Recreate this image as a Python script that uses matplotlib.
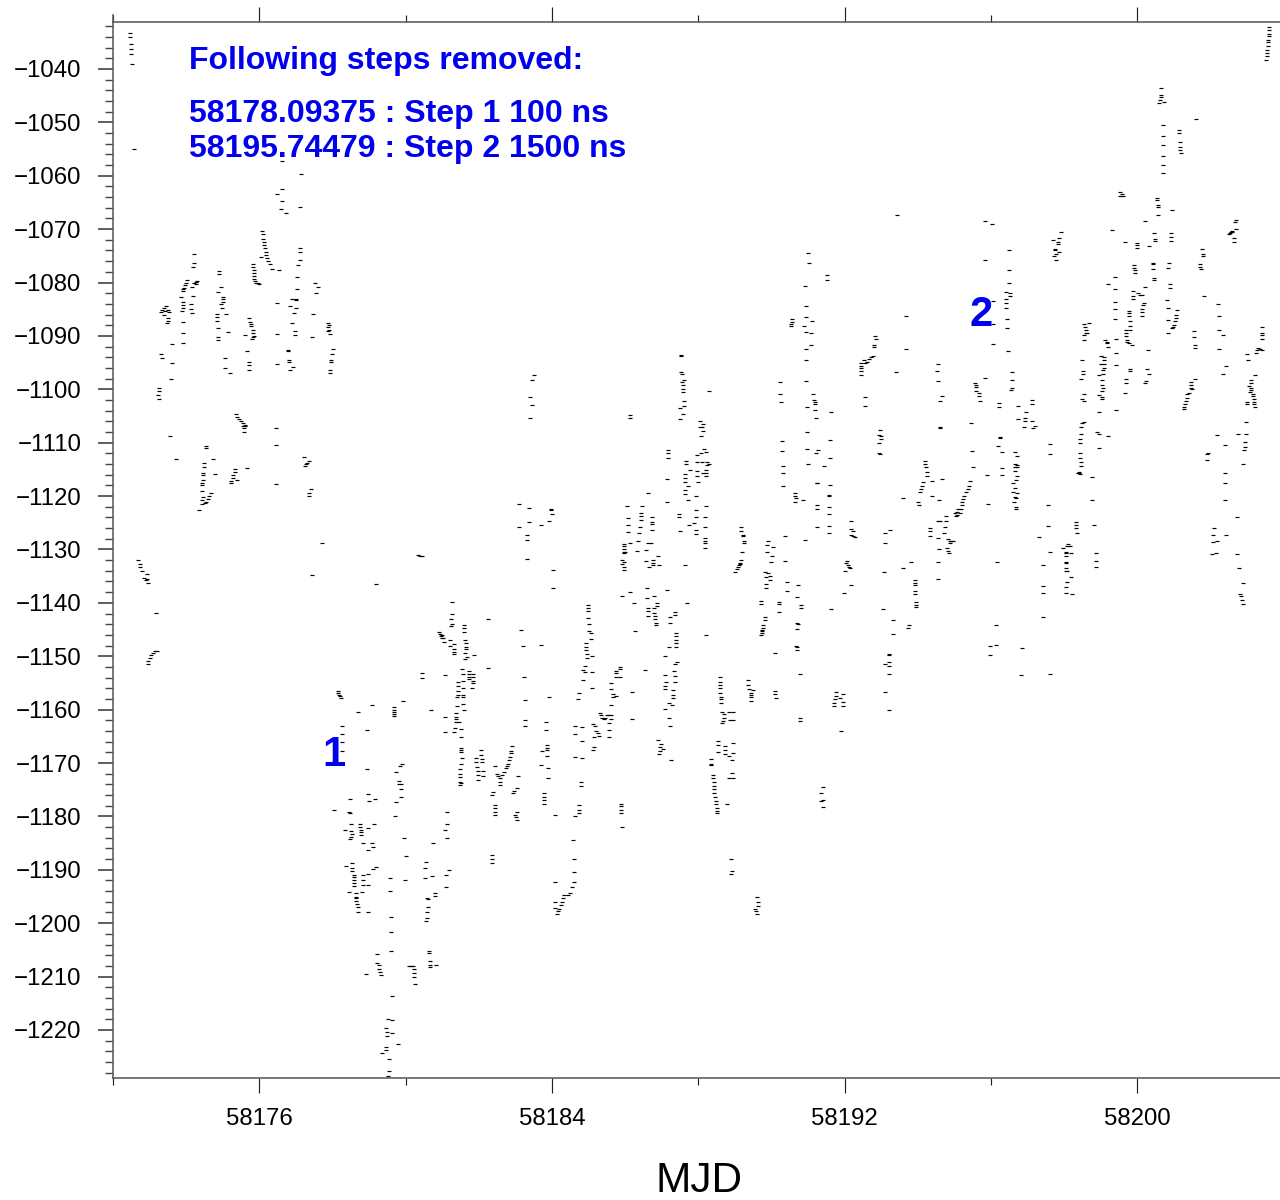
import numpy as np
import matplotlib
matplotlib.use("Agg")
import matplotlib.pyplot as plt
from matplotlib.ticker import FixedLocator, FuncFormatter

plt.rcParams['font.family'] = ['Liberation Sans', 'DejaVu Sans']

MJD_BASE = 58170.0

# (days after MJD_BASE, residual in ns)
top_left = [(2.47,-1033.3),(2.47,-1034),(2.49,-1035.3),(2.5,-1036.3),(2.5,-1037.2),(2.52,-1039.1),(2.58,-1055),
 (6.63,-1057.2),(7.15,-1059.7),(6.63,-1062.5),(6.49,-1063.4),(6.63,-1064.7),(6.6,-1066.2),(6.74,-1067),(7.12,-1065.8),
 (6.08,-1070.3),(6.09,-1071),(6.1,-1071.8),(6.12,-1072.5),(6.13,-1073),(6.15,-1073.6),(6.17,-1074.2),(6.18,-1074.8),(6.2,-1075.4),(6.23,-1076),(6.3,-1076.5),(6.35,-1077.4),(6.55,-1077.6),(6.05,-1075.2),
 (5.83,-1076.5),(5.84,-1077),(5.85,-1077.6),(5.85,-1078.2),(5.86,-1078.8),(5.85,-1079.3),(5.88,-1079.7),(5.92,-1080),(5.97,-1080.1),(6.0,-1080.2),
 (7.12,-1073.5),(7.12,-1074.2),(7.12,-1075.8),(7.05,-1076.8),(7.04,-1079),(7.03,-1081.2),(6.9,-1083),(7.0,-1083.1),
 (4.22,-1074.6),(4.22,-1076.3),(4.2,-1077),(4.26,-1079.9),(4.22,-1080),(4.3,-1079.7),(4.26,-1080.2),(3.98,-1080.5),(4.0,-1080),(3.95,-1081),(3.92,-1081.5),(4.03,-1079.5),(3.87,-1082.7),(3.9,-1081.2),(4.17,-1080.8),(4.2,-1082.5),
 (4.9,-1077.8),(4.9,-1078.4),(4.96,-1080.8),(4.88,-1081.8),(5.0,-1082.7),(7.53,-1080),(7.6,-1080.8),(7.56,-1082)]

left_middle = [(3.35,-1085.2),(3.4,-1084.8),(3.45,-1084.4),(3.42,-1085.3),(3.3,-1085.5),(3.54,-1085.5),(3.5,-1085.2),(3.5,-1086.6),(3.5,-1087.2),(3.47,-1087.6),(3.4,-1086),
 (3.9,-1084.2),(3.9,-1084.8),(3.9,-1083.6),(3.88,-1085.3),(4.14,-1084),(4.12,-1085),(4.15,-1085.7),(3.9,-1087.4),(3.9,-1089.4),(3.92,-1091.3),(3.62,-1091.5),(3.32,-1093.3),(3.34,-1094.1),(3.6,-1095),(3.58,-1098),(3.25,-1099.8),(3.25,-1100.3),(3.24,-1101),(3.27,-1101.8),(3.57,-1108.7),(3.73,-1113),
 (5.0,-1083.6),(5.0,-1083),(4.95,-1084),(4.97,-1084.7),(4.85,-1085.9),(4.85,-1086.5),(4.85,-1087.2),(5.1,-1085.9),(4.87,-1088.5),(5.13,-1089.3),(4.88,-1090.2),(4.88,-1090.8),(5.05,-1094.1),(5.05,-1096),(5.2,-1096.9),
 (5.73,-1086.6),(5.75,-1087.4),(5.78,-1087.8),(5.78,-1088.2),(5.82,-1088.9),(5.82,-1089.4),(5.82,-1090.2),(5.85,-1090),(5.8,-1090.6),(5.73,-1094.9),(5.73,-1095.5),(5.73,-1096.4),(5.62,-1089.8),(5.67,-1092.9),
 (6.49,-1083.9),(6.49,-1089.6),(6.49,-1095.3),(6.46,-1107.2),(6.46,-1110.4),(6.45,-1117.7),(6.85,-1084.4),(7.01,-1084.8),(7.01,-1083.3),(6.96,-1085.7),(6.88,-1087.6),(6.98,-1089.1),(6.98,-1089.8),(6.79,-1092.6),(6.79,-1092.9),(6.82,-1094.5),(6.82,-1094.9),(6.93,-1095.8),(6.85,-1096.4),(7.48,-1085.9),(7.45,-1090.2),
 (7.87,-1088.3),(7.87,-1087.5),(7.9,-1087.9),(7.9,-1088.8),(7.88,-1089),(7.93,-1089.6),(8.02,-1092.4),(8,-1093.4),(7.97,-1094.5),(7.96,-1094.9),(7.94,-1096.4),(7.94,-1096.9),
 (5.37,-1104.6),(5.4,-1105.1),(5.45,-1105.6),(5.5,-1106),(5.55,-1106.4),(5.55,-1106.8),(5.58,-1107.2),(5.6,-1106.6),(5.62,-1106.8),(5.58,-1108),
 (4.55,-1110.6),(4.55,-1111),(4.5,-1113.8),(4.5,-1114.5),(4.74,-1113),(4.78,-1115.8),(4.47,-1115.7),(4.47,-1116),(4.45,-1117),(4.44,-1117.5),(4.43,-1118),(5.34,-1115),(5.34,-1115.5),(5.28,-1116),(5.28,-1116.6),(5.38,-1117),(5.23,-1117.1),(5.23,-1117.6),(5.65,-1114.8),
 (4.43,-1119.1),(4.45,-1120.2),(4.43,-1120.7),(4.43,-1121.5),(4.36,-1122.6),(4.69,-1119.4),(4.63,-1120),(4.6,-1120.6),(4.55,-1121.1),(4.52,-1121.3),
 (7.23,-1112.7),(7.3,-1113.8),(7.25,-1114.3),(7.35,-1113.5),(7.27,-1114),(7.4,-1118.7),(7.37,-1119.4),(7.37,-1120),(7.7,-1128.8),(7.44,-1134.8),(9.2,-1136.5),
 (2.69,-1132),(2.74,-1132.7),(2.74,-1133.3),(2.78,-1134),(2.93,-1134.6),(2.85,-1135.3),(2.9,-1135.8),(2.95,-1136.2),(2.92,-1135.6),
 (2.95,-1151.5),(2.97,-1150.8),(3.0,-1150.3),(3.05,-1149.8),(3.1,-1149.4),(3.15,-1149),(3.2,-1149),(3.18,-1141.9),(10.35,-1131),(10.4,-1131.2),(10.45,-1131.3)]

dip_upper = [(8.14,-1156.6),(8.16,-1156.9),(8.18,-1157.2),(8.2,-1157.5),(8.22,-1157.9),(8.27,-1163),(8.26,-1164.6),(8.25,-1166),(8.25,-1167.7),(8.69,-1160.4),(9.09,-1159.1),(8.94,-1163.8),(8.95,-1171.1),
 (9.69,-1159.5),(9.69,-1160),(9.69,-1160.4),(9.69,-1160.8),(9.69,-1161.2),(9.94,-1158.4),(10.7,-1160),(11.08,-1161.3),(11.08,-1164.2),(10.46,-1153.2),(10.46,-1154),(11.08,-1153.6),
 (9.9,-1170.1),(9.84,-1170.5),(9.74,-1171.7),(9.83,-1173.4),(9.83,-1174),(9.87,-1174),(9.86,-1174.8),(9.86,-1176.3),(9.74,-1177.3),(9.72,-1180),
 (8.96,-1175.8),(9.15,-1176.8),(8.99,-1177.2),(8.48,-1176.8),(8.05,-1178.8),(8.46,-1179.1),(8.49,-1179.4),(8.5,-1181.5),(8.76,-1181.5),(8.76,-1181.9),(8.78,-1182.6),(8.78,-1183),(8.79,-1183.5),(8.96,-1182.2),(9.13,-1181.4),(8.34,-1182.6),(8.5,-1182.7),(8.52,-1183.3),(8.5,-1183.8),(8.49,-1184.2),
 (8.83,-1184.9),(9.08,-1184.9),(9.12,-1185.7),(8.96,-1186.2),(9.96,-1184.1),(10,-1187.4),(10.74,-1184.9),(11.13,-1179.1),(11.14,-1181.5),(11.08,-1182.6),(11.12,-1184.1),
 (10.55,-1188.6),(10.54,-1189.7),(10.53,-1191.5),(10.72,-1191.2),(11.18,-1190.1),(11.11,-1190.9),(11.11,-1193.2),(9.57,-1191.5),(9.97,-1192),(9.58,-1194),(10.81,-1194.4),(10.79,-1194.9),(10.61,-1195.4),
 (8.38,-1189.2),(8.53,-1188.8),(8.53,-1189.7),(8.53,-1190.3),(8.6,-1191),(8.6,-1191.4),(8.58,-1192),(8.58,-1192.5),(8.6,-1193),(8.46,-1194.2),(8.64,-1194.3),(8.64,-1195.1),(8.84,-1191),(8.84,-1191.9),(8.84,-1192.9),(8.82,-1194.1),(8.97,-1190.7),(8.97,-1192.9),(9.18,-1189.4),(9.11,-1189.8)]

dip_lower = [(9.22,-1205.7),(9.23,-1207.5),(9.26,-1207.8),(9.28,-1208.5),(9.31,-1209.1),(9.32,-1209.8),(8.92,-1209.6),(10.1,-1208.1),(10.15,-1208),(10.21,-1208.1),(10.23,-1208.6),(10.22,-1209.3),(10.22,-1210),(10.25,-1211.4),
 (10.64,-1205.2),(10.64,-1205.5),(10.67,-1207),(10.67,-1207.8),(10.66,-1208.3),(10.82,-1207.8),(9.6,-1198.8),(9.6,-1201.6),(9.6,-1205.2),(9.62,-1213.6),(10.57,-1195.3),(10.6,-1197),(10.58,-1198),(10.57,-1199),(10.56,-1199.6),
 (8.69,-1197),(8.69,-1198),(8.97,-1198),(8.64,-1195.2),(8.65,-1195.8),(8.66,-1196.4),(9.52,-1218),(9.62,-1218.2),(9.45,-1219.6),(9.5,-1220.4),(9.62,-1220.6),(9.48,-1221.2),(9.47,-1223.1),(9.46,-1223.8),(9.79,-1222.6),(9.35,-1224.4),(9.55,-1225.5),(9.55,-1227.6),(9.53,-1228.6)]

rise_a = [(11.27,-1139.9),(11.27,-1142.1),(11.24,-1143),(11.27,-1143.9),(11.25,-1144.4),(10.92,-1145.4),(10.94,-1145.8),(10.96,-1146.2),(10.98,-1146.6),(11,-1146),(11.02,-1146.6),(11.21,-1146.9),(11.06,-1147.4),(11.21,-1148.1),(11.33,-1147.7),(11.31,-1148.6),(11.31,-1149.2),(11.31,-1149.5),
 (11.6,-1144.2),(11.6,-1144.8),(11.6,-1145.4),(11.61,-1146.9),(11.65,-1147.6),(11.65,-1148.2),(11.65,-1148.7),(11.61,-1149.4),(11.68,-1150.2),(11.62,-1150.6),(11.88,-1149.7),(12.26,-1143),(13.14,-1145),(13.21,-1148),(13.7,-1147.9),(12.24,-1152.2),(13.24,-1153.8),(13.25,-1158.2),(13.91,-1157.7),(13.25,-1162),(13.25,-1163),(13.84,-1162.3),(13.84,-1163.8),
 (11.55,-1152.4),(11.56,-1153.4),(11.56,-1154.7),(11.43,-1154.9),(11.42,-1155.6),(11.56,-1155.9),(11.43,-1156.6),(11.42,-1157.2),(11.57,-1157.3),(11.57,-1157.6),(11.39,-1157.7),(11.74,-1152.7),(11.74,-1153.4),(11.74,-1153.9),(11.74,-1154.3),(11.83,-1153.4),(11.83,-1153.9),(11.85,-1154.7),(11.83,-1155.1),(11.81,-1155.9),
 (11.39,-1159.3),(11.58,-1159),(11.6,-1160),(11.38,-1160.6),(11.38,-1161.3),(11.38,-1161.8),(11.38,-1162.3),(11.47,-1162.3),(11.35,-1163.5),(11.33,-1164.2),(11.51,-1163.6),(11.51,-1165.1),(11.51,-1167.1),(11.51,-1167.6),(11.51,-1167.9),(11.53,-1169.1),(11.5,-1170.1),(11.49,-1171.1),(11.49,-1172),(11.48,-1172.7),(11.48,-1173.5),(11.5,-1173.7),(11.48,-1174.1),
 (11.93,-1169.1),(11.93,-1169.8),(11.95,-1170.7),(11.97,-1171.5),(11.97,-1172.3),(11.97,-1173.2),(12.06,-1167.6),(12.07,-1168.5),(12.09,-1169.3),(12.09,-1169.8),(12.12,-1171.5),(12.12,-1172.4),
 (12.45,-1170.5),(12.5,-1172),(12.53,-1172.4),(12.58,-1172.9),(12.58,-1173.5),(12.58,-1174.1),(12.63,-1172.3),(12.68,-1171.6),(12.73,-1171),(12.76,-1170.5),(12.79,-1170.1),(12.82,-1169.5),(12.84,-1168.8),(12.87,-1168.2),(12.88,-1167.8),(12.91,-1166.8),
 (13.06,-1172.4),(13.05,-1174.6),(12.97,-1175.2),(12.94,-1175.7),(12.38,-1175.4),(12.35,-1175.9),(12.43,-1177.8),(12.43,-1178.5),(12.43,-1179.1),(12.45,-1179.8),(13.05,-1179.1),(13,-1179.8),(13.02,-1180.2),(13.04,-1180.7),(12.36,-1187.2),(12.36,-1187.9),(12.36,-1188.7),
 (13.86,-1166.6),(13.86,-1167.2),(13.86,-1167.6),(13.73,-1167.8),(13.86,-1168.6),(13.71,-1170.4),(13.88,-1171),(13.9,-1172.8),(13.79,-1175.7),(13.78,-1176.3),(13.78,-1176.9),(13.78,-1177.6),(14.08,-1179.8)]

rise_b = [(14.62,-1163),(14.63,-1164.6),(14.82,-1163.3),(14.81,-1165.8),(14.63,-1168.8),(14.81,-1169.1),(14.78,-1173.6),(14.78,-1174.3),(14.75,-1177.8),(14.75,-1178.8),(14.75,-1179.4),(14.63,-1179.9),
 (15.14,-1165.1),(15.16,-1167),(15.13,-1167.6),(14.98,-1140.4),(14.98,-1140.9),(14.98,-1141.5),(14.98,-1142.9),(15,-1144),(15.02,-1145.2),(15.07,-1145.7),(15.07,-1146.7),(14.92,-1147.5),(14.93,-1148.2),(14.93,-1148.9),(14.95,-1149.5),(14.97,-1150.4),(15.08,-1149.9),(14.91,-1151.8),(14.84,-1152.6),(14.89,-1152.9),(15.08,-1153),(14.86,-1154.5),(15.09,-1155.9),(14.73,-1156.9),(14.71,-1158.1),
 (14.57,-1184.4),(14.6,-1188),(14.61,-1190.4),(14.61,-1192.2),(14.09,-1192.2),(14.54,-1193.3),(14.5,-1194.3),(14.44,-1194.7),(14.34,-1194.7),(14.3,-1195.3),(14.27,-1196),(14.09,-1196.1),(14.09,-1197.1),(14.25,-1196.6),(14.2,-1197.4),(14.17,-1197.8),(14.14,-1198.2),
 (13.5,-1097.3),(13.45,-1098.3),(13.41,-1101.5),(13.44,-1102.9),(13.41,-1105.4),(13.09,-1121.5),(13.37,-1122.3),(13.98,-1122.4),(13.98,-1122.7),(13.99,-1123.3),(13.37,-1124.8),(13.93,-1124.7),(13.7,-1125.5),(13.11,-1125.7),(13.32,-1127.2),(13.32,-1128.3),(13.31,-1131.8),(14.03,-1133.8),(14.02,-1137.3),(16.14,-1104.8),(16.14,-1105.4),
 (15.75,-1152.7),(15.75,-1153.2),(15.74,-1153.9),(15.85,-1152),(15.85,-1152.4),(15.87,-1153.9),(15.61,-1155.1),(15.62,-1156.2),(15.66,-1157),(15.66,-1157.6),(15.75,-1157.4),(15.6,-1159.2),(15.32,-1160.7),(15.35,-1161),(15.38,-1161.5),(15.42,-1161.8),(15.46,-1161.6),(15.5,-1161),(15.55,-1161),(15.6,-1161),(15.6,-1161.7),(15.55,-1162.5),(15.57,-1163.8),(15.57,-1165.2),(15.12,-1162.7),(15.18,-1163.1),(15.21,-1164),(15.25,-1164.3),(15.28,-1164.9),(15.89,-1177.6),(15.89,-1178.1),(15.88,-1178.8),(15.89,-1179.3),(15.91,-1182),(16.54,-1152.5),(16.19,-1156.7),(16.2,-1161.7)]

middle_a = [(17.52,-1093.7),(17.52,-1093.5),(17.53,-1096.7),(17.55,-1097.2),(17.61,-1098.2),(17.55,-1098.7),(17.57,-1099.2),(17.57,-1099.9),(17.57,-1100.5),(17.61,-1102.1),(17.6,-1103.2),(17.5,-1103.5),(17.59,-1104.6),(17.5,-1105.5),(18.29,-1100.4),
 (18.05,-1105.9),(18.14,-1106.5),(18.04,-1107.1),(18.09,-1107),(18.13,-1107.8),(18.08,-1108.8),(17.17,-1111.3),(17.17,-1112),(17.17,-1112.9),(17.15,-1116.8),(17.15,-1121.1),(16.62,-1119.4),
 (18.15,-1111.1),(18.2,-1111.8),(18.07,-1111.9),(17.96,-1112.3),(17.65,-1113.4),(17.65,-1114),(17.96,-1113.7),(18.1,-1113.6),(18.24,-1113.6),(18.29,-1113.9),(18.24,-1114.2),(17.76,-1115.1),(17.64,-1115.8),(17.64,-1116.6),(17.63,-1117.4),(17.95,-1115.3),(17.95,-1116.2),(17.99,-1117.4),(18.13,-1115.7),(18.22,-1115.2),(18.2,-1115.7),(18.22,-1116.3),(17.73,-1118.2),(17.63,-1118.9),(17.63,-1119.6),(17.73,-1120.7),(17.94,-1119.9),(18.2,-1121.8),(17.94,-1122.7),
 (17.46,-1123.3),(17.47,-1124),(17.49,-1126.5),(17.94,-1124),(18.19,-1124),(18.19,-1125.8),(17.74,-1125.4),(17.89,-1125),(17.94,-1126.4),(17.93,-1127.1),(18.19,-1127.8),(18.19,-1128.5),(18.19,-1128.7),(18.17,-1129.7),
 (16.05,-1121.9),(16.47,-1121.8),(16.43,-1123.2),(16.43,-1123.7),(16.43,-1124.5),(16.73,-1123.9),(16.73,-1124.8),(16.73,-1125.2),(16.07,-1124.1),(16.08,-1125.4),(16.41,-1125.7),(16.73,-1126.3),(16.09,-1126.7),(16.37,-1127),(16.12,-1128.7),(16.34,-1128.5),(16.62,-1128.7),(16.71,-1128.7),
 (15.96,-1129),(15.96,-1129.4),(15.96,-1129.9),(15.96,-1130.4),(15.96,-1130.7),(16,-1130.4),(16.33,-1130.2),(16.57,-1130.1),(16.9,-1131.2),(15.91,-1132),(15.98,-1132.3),(15.92,-1132.7),(15.96,-1133.2),(15.96,-1133.8),(16.57,-1132.2),(16.64,-1133.2),(16.76,-1132),(16.76,-1132.5),(16.76,-1133),(16.92,-1133),(17.63,-1133),
 (16.6,-1137.3),(17.13,-1137.5),(16.14,-1137.9),(15.91,-1138.8),(16.6,-1139),(16.79,-1138.7),(16.23,-1140.1),(17.69,-1140.1),(16.87,-1140),(16.87,-1140.6),(16.8,-1140.9),(16.62,-1140.9),(16.62,-1141.5),(16.62,-1142.5),(17.36,-1141.7),(17.36,-1142.2),(17.22,-1142.6),(17.22,-1143.7),(16.27,-1145.2),(18.2,-1146),(16.8,-1141.9),(16.81,-1142.5),(16.82,-1143.1),(16.85,-1143.8),(16.85,-1144.2),
 (17.38,-1145.7),(17.39,-1146.3),(17.39,-1146.9),(17.39,-1147.5),(17.39,-1148.3),(17.19,-1148.3),(17.08,-1149.9),(17.41,-1151),(17.35,-1151.5),(17.34,-1152.7),(17.35,-1153.7),(17.35,-1154.9),(17.09,-1153.5),(17.12,-1154.8),(17.1,-1155.5),(17.1,-1156.2),(17.32,-1156.3),(17.32,-1157.2),(17.31,-1157.9),
 (17.21,-1161.6),(17.23,-1163.1),(17.21,-1158.7),(17.29,-1159.1),(17.1,-1159.8),(16.91,-1165.7),(16.99,-1166.5),(16.94,-1167),(17.03,-1167.3),(16.94,-1167.7),(16.93,-1168.3),(17.26,-1169.5)]

middle_b = [(19.17,-1125.7),(19.17,-1126.6),(19.21,-1127.2),(19.23,-1127.5),(19.26,-1128.4),(19.26,-1128.7),(19.19,-1130.5),(19.17,-1132),(19.14,-1132.8),(19.13,-1132.5),(19.1,-1133),(19.08,-1133.3),(19.06,-1133.6),(19,-1134.2),
 (19.91,-1128.4),(19.89,-1129.1),(20.03,-1129.5),(19.89,-1130.4),(20.01,-1131.3),(19.99,-1132.3),(20.37,-1127.4),(20.37,-1132.1),(20.23,-1098.6),(20.24,-1100.8),(20.25,-1102.3),(20.28,-1109.6),(20.29,-1111.6),(20.31,-1114.3),(20.31,-1115.7),(20.31,-1118.2),(20.64,-1119.4),(20.64,-1119.9),(20.66,-1120.4),(20.63,-1121.1),
 (19.83,-1134.2),(19.91,-1134.5),(19.86,-1135.2),(19.97,-1134.9),(19.97,-1135.7),(19.85,-1136.5),(19.86,-1137.3),(20.42,-1136.1),(20.43,-1137.7),(20.72,-1136.7),(20.71,-1138.9),(19.7,-1139.6),(19.7,-1140.3),(20.2,-1139.9),(20.21,-1140.2),(20.21,-1141.7),
 (19.81,-1142.6),(19.81,-1143.3),(19.78,-1144.1),(19.77,-1144.7),(19.75,-1145),(19.74,-1145.3),(19.73,-1145.7),(19.72,-1146.1),(20.71,-1143.8),(20.68,-1148.1),
 (18.58,-1153.9),(18.58,-1154.8),(18.58,-1155.4),(18.58,-1156),(18.6,-1156.8),(18.61,-1157.6),(18.62,-1158.1),(18.63,-1158.7),(18.65,-1160.4),(18.84,-1160.4),(18.95,-1160.4),(18.69,-1160.8),(18.69,-1161.5),(18.67,-1162.1),(18.65,-1162.5),(18.86,-1162),(18.96,-1162),
 (19.36,-1154.5),(19.37,-1155.4),(19.39,-1156.2),(19.49,-1156.3),(19.43,-1156.8),(19.43,-1157.3),(19.43,-1157.7),(19.43,-1158.3),(20.1,-1156.5),(20.1,-1157.1),(20.11,-1157.8),(20.77,-1153.4),(20.77,-1161.6),(20.77,-1162.1),
 (20.72,-1143.9),(20.7,-1144.9),(20.69,-1148.2),(20.69,-1148.9),(20.1,-1149.4),(21.62,-1141.2),(20.82,-1140.4),(20.82,-1141),
 (18.55,-1165.8),(18.55,-1166.6),(18.74,-1166.8),(18.73,-1167.5),(18.54,-1168),(18.72,-1168.3),(18.96,-1166.3),(18.95,-1168.1),(18.85,-1168.6),(18.92,-1169.5),(18.36,-1169.3),(18.36,-1170.1),(18.36,-1170.4),(18.4,-1172.3),(18.41,-1172.9),(18.42,-1173.5),(18.43,-1174.3),(18.44,-1174.9),(18.44,-1175.7),(18.45,-1176.4),(18.47,-1177.1),(18.49,-1177.7),(18.51,-1178.5),(18.51,-1179),(18.52,-1179.4),
 (18.92,-1171.9),(18.83,-1172.8),(18.95,-1172.9),(18.79,-1177.7),(18.89,-1188),(18.91,-1190.2),(18.88,-1190.7),(19.61,-1195.1),(19.64,-1196),(19.63,-1196.7),(19.56,-1197.3),(19.58,-1197.7),(19.6,-1198.3),
 (21.41,-1174.4),(21.35,-1175.6),(21.36,-1177.1),(21.41,-1177),(21.4,-1178.2),(21.76,-1156.7),(21.75,-1157.5),(21.73,-1158.1),(21.71,-1158.8),(21.7,-1159.3),(21.87,-1157.9),(21.96,-1157.1),(21.96,-1158.5),(21.96,-1159.4),(21.91,-1164)]

upper_mid = [(20.86,-1120.7),(21.25,-1117.6),(21.24,-1121.7),(21.24,-1122.5),(21.25,-1125.7),(21.58,-1119.9),(21.57,-1122),(21.56,-1123.4),(21.56,-1125.6),(21.56,-1126.9),(20.92,-1128.2),
 (22.16,-1124.6),(22.17,-1126.1),(22.23,-1126.5),(22.18,-1127.2),(22.23,-1127.5),(22.27,-1127.7),(22.06,-1132.2),(22.03,-1132.6),(22.09,-1132.9),(22.12,-1133.3),(22.14,-1133.5),(22,-1134.1),(22.16,-1136.7),(21.98,-1138.1),
 (23.2,-1160.1),(23.1,-1156.7),(23.21,-1153.3),(23.11,-1151.4),(23.2,-1151),(23.2,-1151.8),(23.2,-1149.5),(23.2,-1149.8),(23.31,-1143.3),(23.31,-1145.9),(23.77,-1144.1),(23.74,-1144.8),(23.05,-1141.2),
 (23.91,-1135.8),(23.91,-1136.3),(23.93,-1136.7),(23.93,-1137.8),(23.93,-1138.3),(23.95,-1139.8),(23.95,-1140.4),(23.94,-1140.8),(23.08,-1134.3),(23.59,-1133.4),(23.82,-1132.4),(23.1,-1126.9),(23.23,-1126.4),(23.1,-1128.7),(23.59,-1120.4),(24,-1121.2),(24.03,-1121.6),(24.38,-1120),(24.58,-1120.8),
 (24.34,-1125.9),(24.34,-1126.5),(24.34,-1127.4),(24.56,-1124.7),(24.61,-1124.7),(24.76,-1124.6),(24.76,-1123.7),(24.74,-1125.7),(24.71,-1127),(24.55,-1127.9),(24.57,-1129.9),(24.55,-1132.4),(24.55,-1135.5),(24.83,-1128.1),(24.87,-1128.4),(24.92,-1128.5),(24.97,-1128.5),(24.87,-1128.7),(24.81,-1129.7),(24.83,-1130.3),(24.85,-1130.7),
 (25.4,-1118.2),(25.38,-1118.6),(25.31,-1119.2),(25.27,-1119.9),(25.24,-1120.6),(25.22,-1121.2),(25.22,-1121.7),(25.1,-1122.4),(25.17,-1122.4),(25.06,-1122.9),(25.01,-1123.1),(25.15,-1123.1),(25.06,-1123.6),(25.03,-1123.7),(24.12,-1118.2),(24.08,-1118.7),(24.05,-1119.2),(25.43,-1117.1),(25.91,-1121.4),
 (26.68,-1120.4),(26.62,-1121.2),(26.68,-1122),(26.68,-1122.5),(26.17,-1132.3),(26.15,-1144.1),(25.97,-1148),(26.15,-1147.9),(25.96,-1149.8),(26.85,-1148.4),(26.83,-1153.6),(27.61,-1153.3),(27.56,-1125.6),(27.6,-1130.5),(27.43,-1138.1)]

upper_right = [(21.01,-1074.5),(21.02,-1076.3),(21.53,-1078.6),(21.52,-1079.6),(20.92,-1080.7),(20.93,-1084.4),(20.93,-1086.4),(21.11,-1087.2),(20.57,-1086.9),(20.55,-1087.3),(20.54,-1087.7),(20.52,-1088.1),(20.89,-1088.1),(20.94,-1089.3),(21.08,-1089.5),(21.07,-1091.7),(20.95,-1092.4),(20.95,-1094.5),(20.95,-1098.5),
 (22.82,-1090.1),(22.85,-1090.6),(22.79,-1091.7),(22.79,-1092),(22.78,-1093.8),(22.73,-1094),(22.67,-1094.4),(22.61,-1094.8),(22.52,-1094.5),(22.55,-1095.1),(22.46,-1095.1),(22.44,-1095.6),(22.46,-1096.1),(22.46,-1096.5),(22.46,-1097.4),(23.68,-1086.3),(23.68,-1092.5),(23.4,-1096.8),(22.56,-1101.4),(22.56,-1103.2),(23.42,-1067.3),
 (21.14,-1100.8),(21.16,-1102),(21.18,-1102.3),(21.18,-1102.7),(20.97,-1103.4),(21.2,-1103.9),(21.21,-1105.3),(21.62,-1104.2),(20.97,-1108),(20.97,-1111.1),(20.99,-1113.9),(21.23,-1111.9),(21.28,-1111.3),(21.44,-1114.4),(21.24,-1117.5),(21.6,-1109.5),(21.6,-1112.9),(21.59,-1117.9),(21.58,-1119.8),
 (22.97,-1107.7),(22.94,-1108.5),(22.99,-1108.7),(22.99,-1109.3),(22.93,-1110.1),(22.94,-1111.9),(22.96,-1112.2),(24.19,-1113.4),(24.19,-1113.9),(24.21,-1114.6),(24.24,-1115.4),(24.26,-1116.2),(24.14,-1117.3),(24.4,-1117.2),(24.65,-1116.8),
 (24.54,-1095.3),(24.53,-1096.5),(24.55,-1098.5),(24.66,-1101.2),(24.61,-1102.2),(24.61,-1107),(24.61,-1107.2),(25.56,-1098.8),(25.58,-1099.2),(25.58,-1099.5),(25.6,-1100.4),(25.67,-1100.6),(25.68,-1101.2),(25.7,-1102.1),(25.84,-1097.8),(26.06,-1091.5),(25.45,-1106.3),(25.48,-1111.5),(25.52,-1114.6),(25.9,-1116.1),(26.31,-1116.1),(26.3,-1114.7),(26.29,-1111.8),(26.24,-1108.9),(26.24,-1109.2),(26.19,-1110.6),(26.21,-1102.6),(26.21,-1103.3),
 (26.57,-1096.8),(26.57,-1098.3),(26.57,-1099.7),(26.55,-1100.1),(26.47,-1092.9),(26.44,-1088.5),(26.44,-1086.9),(26.42,-1084.7),(26.42,-1083.8),(26.41,-1083.1),(26.41,-1081.8),(26.53,-1082),(26.53,-1082.5),(26.49,-1080),(26.49,-1077.7),(26.49,-1074),(25.83,-1075.7),(25.83,-1068.4),(26.02,-1069.1),(26.06,-1083.4),(26.06,-1087.8),
 (27.11,-1102),(27.11,-1102.7),(26.74,-1103.2),(26.97,-1104.2),(26.74,-1105.6),(26.94,-1105.4),(26.94,-1106),(27.13,-1105.9),(26.9,-1107),(27.2,-1106.9),(27.15,-1107.3),(26.65,-1111.8),(26.72,-1112.4),(26.65,-1114),(26.72,-1114.2),(26.65,-1114.6),(26.72,-1114.6),(26.65,-1115.3),(26.7,-1116.3),(26.68,-1116.9),(26.61,-1117.5),(26.65,-1118.5),(26.61,-1119.2),(26.7,-1119.5),(26.65,-1120.1)]

far_top = [(33.61,-1032.2),(33.61,-1032.7),(33.59,-1033.4),(33.59,-1033.9),(33.58,-1034.5),(33.58,-1035),(33.57,-1035.7),(33.55,-1036.4),(33.55,-1037),(33.54,-1037.5),(33.53,-1038.4),
 (30.66,-1043.6),(30.64,-1044.8),(30.64,-1045.3),(30.62,-1045.8),(30.6,-1046.4),(30.73,-1046.1),(31.61,-1049.3),(31.15,-1051.4),(31.15,-1052),(31.18,-1053.6),(31.18,-1054.7),(31.18,-1055.1),(31.2,-1055.7),(30.71,-1050.5),(30.71,-1052.6),(30.71,-1054.2),(30.71,-1056.3),(30.71,-1058),(30.69,-1059.5),
 (29.54,-1063.1),(29.57,-1063.5),(29.61,-1063.7),(29.52,-1063.7),(30.54,-1064.2),(30.54,-1064.6),(30.56,-1065.5),(30.56,-1065.9),(30.56,-1067.3),(30.94,-1066.4),(30.2,-1068.5),(29.31,-1070.2),(30.45,-1070.7),(30.48,-1071.9),(30.49,-1072.3),(30.93,-1070.7),(30.93,-1071.5),(30.92,-1072.3),
 (29.67,-1072.5),(29.98,-1072.6),(29.99,-1073),(30,-1073.5),(30.32,-1073.2),(27.9,-1070.5),(27.86,-1071.7),(27.7,-1072),(27.84,-1072.4),(27.84,-1072.8),(27.74,-1073.7),(27.76,-1074),(27.85,-1074.3),(27.79,-1074.7),(27.73,-1075),(27.77,-1075.8),
 (32.7,-1068.2),(32.67,-1068.7),(32.71,-1069.9),(32.58,-1070.3),(32.53,-1070.7),(32.5,-1071),(32.55,-1070.5),(32.6,-1070.6),(32.64,-1071.7),(32.64,-1072.5),(31.78,-1073.7),(31.79,-1074.6),(31.79,-1075),(31.71,-1076.5),(31.72,-1077),(31.75,-1077.5),
 (29.91,-1076.7),(29.92,-1077.3),(29.94,-1077.7),(29.95,-1078.3),(30.42,-1076.3),(30.42,-1076.6),(30.43,-1077.5),(30.86,-1076.3),(30.85,-1077.2),(29.39,-1078.9),(29.21,-1080.2),(29.39,-1081.2),(30.45,-1079.2),(30.45,-1079.5),(30.9,-1080.3),(30.9,-1081),(30.2,-1080.9),
 (29.87,-1081.5),(30.02,-1082),(30.07,-1082.3),(30.12,-1082.3),(29.89,-1082.6),(29.87,-1083.1),(31.83,-1082.5),(32.21,-1084),(32.23,-1086.3),(29.4,-1083.6),(29.39,-1085),(29.4,-1086.8),(29.78,-1085.3),(29.78,-1085.7),(29.78,-1086.2),(30.18,-1083.8),(30.16,-1084.3),(30.14,-1085),(30.14,-1085.6),(30.13,-1086.2),(30.81,-1083.2),(30.83,-1084.8)]

far_lower = [(29.8,-1087.2),(30.84,-1087),(31.09,-1085.2),(31.07,-1086),(31.05,-1086.7),(31.03,-1087.2),(31.01,-1087.9),(30.98,-1088.3),(30.96,-1088.5),(30.85,-1089.4),(32.22,-1088.8),(32.33,-1089.8),(32.22,-1092.4),(31.56,-1089.1),(31.56,-1090.2),(31.57,-1091.7),(31.57,-1092.3),
 (29.81,-1088.2),(29.69,-1088.9),(29.81,-1088.9),(29.7,-1089.5),(29.7,-1090),(29.71,-1090.7),(29.72,-1091.1),(29.78,-1091.3),(29.85,-1091.7),(29.41,-1090.6),(29.42,-1093.2),(29.42,-1095.4),(30.29,-1092.7),(28.55,-1087.7),(28.56,-1088.3),(28.61,-1088.9),(28.61,-1089.5),(28.63,-1089.5),(28.55,-1089.9),(28.55,-1090.8),(28.67,-1087.5),(29.11,-1090.7),(29.16,-1091.1),(29.18,-1091.4),(29.19,-1092),
 (29.02,-1093.8),(29.08,-1094),(29.08,-1094.5),(29.08,-1095.3),(29.02,-1095.2),(29.08,-1096),(29.07,-1096.4),(29.07,-1097.2),(28.95,-1097.3),(29.04,-1098.2),(29.04,-1099.2),(29.05,-1099.8),(29.04,-1100.3),(28.95,-1101),(29.04,-1101.4),(29.04,-1101.8),(28.95,-1104.3),(29.42,-1103.8),(28.48,-1094.5),(28.51,-1096.5),(28.52,-1097.2),(28.47,-1098.1),(28.54,-1100.8),(28.49,-1101.9),(28.55,-1102.1),
 (29.81,-1096.2),(29.81,-1096.6),(30.26,-1096.2),(30.31,-1097.2),(29.68,-1098.1),(29.69,-1098.9),(30.24,-1098.5),(30.22,-1098.9),(29.67,-1100.7),(31.59,-1098.1),(31.46,-1098.7),(31.48,-1099.2),(31.48,-1099.8),(31.5,-1100),(31.42,-1100.6),(31.36,-1100.9),(31.35,-1101.7),(31.33,-1102.2),(31.3,-1102.8),(31.28,-1103.3),(31.28,-1103.7),(32.43,-1095.7),(32.35,-1097.1),
 (33.42,-1088.4),(33.41,-1089.4),(33.41,-1089.8),(33.4,-1090.5),(33.31,-1092.3),(33.35,-1092.5),(33.26,-1092.7),(33.24,-1093.2),(33.4,-1092.7),(33.01,-1093.3),(33.03,-1094.6),(33.22,-1097.3),(33.12,-1098.2),(33.12,-1098.9),(33.06,-1099.3),(33.12,-1099.7),(33.1,-1100.1),(33.08,-1100.5),(33.15,-1100.8),(33.17,-1101.2),(33.19,-1101.8),(33.2,-1102.3),(33.2,-1102.8),(33.22,-1103.4),(32.99,-1102.3),(32.99,-1102.8),
 (32.98,-1106.1),(32.97,-1108.3),(32.75,-1108.3),(32.95,-1109.8),(32.94,-1110.8),(32.91,-1111.4),(32.89,-1114),(32.19,-1108.6),(32.39,-1110.4),(31.93,-1111.9),(31.91,-1112.2),(31.9,-1113.3),(32.39,-1115.6),(32.4,-1117.6),(32.41,-1120.7),(32.73,-1124),(32.1,-1126),(32.08,-1127.3),(32.08,-1128.6),(32.19,-1128.4),(32.42,-1127.2),(32.14,-1130.6),(32.03,-1130.8),(32.73,-1130.9),(32.79,-1133.5),(32.89,-1136.2),(32.81,-1138.3),(32.83,-1138.8),(32.85,-1139.5),(32.88,-1140.2),
 (27.61,-1110.3),(27.6,-1112.2),(27.57,-1121.7),(27.32,-1127.7),(27.41,-1132.9),(27.42,-1136.8),(27.42,-1142.6),(28.48,-1106.3),(28.54,-1106.2),(28.47,-1107.1),(28.47,-1108.3),(28.43,-1109.4),(28.43,-1110),(28.43,-1112),(28.44,-1112.8),(28.45,-1113.6),(28.45,-1114.3),(28.4,-1115.6),(28.4,-1115.4),(28.42,-1115.8),(28.38,-1115.6),(28.75,-1116.4),(28.77,-1120.8),(28.9,-1108),(28.96,-1108.3),(29.21,-1108.7),(28.96,-1111),
 (28.31,-1124.8),(28.32,-1125.4),(28.33,-1126),(28.35,-1126.9),(28.82,-1125.4),(28.86,-1130.7),(28.87,-1132.1),(28.87,-1133.3),(28.1,-1129),(28.08,-1129.4),(28.17,-1129.4),(27.97,-1129.8),(28.06,-1130.4),(28.18,-1130.7),(28.06,-1130.7),(28.06,-1131.2),(28.06,-1132.3),(28.04,-1132.6),(28.04,-1133.4),(28.04,-1134),(28.08,-1134.1),(28.2,-1135.2),(28.08,-1136.1),(28.06,-1137.1),(28.06,-1138.1),(28.22,-1138.3)]

groups = [top_left, left_middle, dip_upper, dip_lower, rise_a, rise_b, middle_a, middle_b, upper_mid, upper_right, far_top, far_lower]

x_labelled = [58176, 58184, 58192, 58200]
x_unlabelled = [58172, 58180, 58188, 58196]
y_major = list(range(-1220, -1030, 10))
y_minor = list(range(-1228, -1030, 2))

header = "Following steps removed:"
step_lines = ["58178.09375 : Step 1 100 ns", "58195.74479 : Step 2 1500 ns"]
step_marks = [(58177.72, "1"), (58195.40, "2")]
step_mark_y = [-1170.6, -1088.1]

W, H = 1280, 1200
fig = plt.figure(figsize=(W / 100, H / 100), dpi=100)
ax = fig.add_axes([113 / W, 1 - 1078 / H, (W - 113) / W, (1078 - 22) / H])

pts = np.array([p for g in groups for p in g])
ax.plot(pts[:, 0] + MJD_BASE, pts[:, 1], ls='none', marker='_', ms=2.3, mew=0.85, color='black', zorder=3)

ax.set_xlim(58172.0, 58203.9)
ax.set_ylim(-1229.0, -1031.2)

SPINE = '#5a5a5a'
for s in ['top', 'bottom', 'left']:
    ax.spines[s].set_linewidth(1.15)
    ax.spines[s].set_color(SPINE)
ax.spines['right'].set_visible(False)

ax.xaxis.set_major_locator(FixedLocator(x_labelled))
ax.xaxis.set_minor_locator(FixedLocator(x_unlabelled))
ax.xaxis.set_major_formatter(FuncFormatter(lambda v, p: f"{int(v)}"))
ax.yaxis.set_major_locator(FixedLocator(y_major))
ax.yaxis.set_minor_locator(FixedLocator(y_minor))
ax.yaxis.set_major_formatter(FuncFormatter(lambda v, p: f"\u2212{abs(int(v))}"))

ax.tick_params(axis='x', which='major', direction='out', top=True, length=10.8, width=0.85, labelsize=17.3, pad=11, color='#222222')
ax.tick_params(axis='x', which='minor', direction='out', top=True, length=5.2, width=0.85, color='#222222')
ax.tick_params(axis='y', which='major', direction='out', length=10.8, width=1.1, labelsize=17.3, pad=12, color='#333333')
ax.tick_params(axis='y', which='minor', direction='out', length=5.8, width=1.0, color='#444444')

ax.set_xlabel("MJD", fontsize=30.5, labelpad=22, x=0.5018)

# the left axis line runs a little above the frame
ax.plot([0, 0], [1.0, 1.0066], transform=ax.transAxes, color=SPINE, lw=1.15, clip_on=False)

txt = dict(color='#0000ee', fontweight='bold', ha='left', va='baseline')
ax.text(58174.09, -1040.0, header, fontsize=23, **txt)
ax.text(58174.09, -1049.9, step_lines[0], fontsize=23, **txt)
ax.text(58174.09, -1056.5, step_lines[1], fontsize=23, **txt)
for (mx, label), my in zip(step_marks, step_mark_y):
    ax.text(mx, my, label, fontsize=30, **txt)

fig.savefig("out.png", dpi=100)
